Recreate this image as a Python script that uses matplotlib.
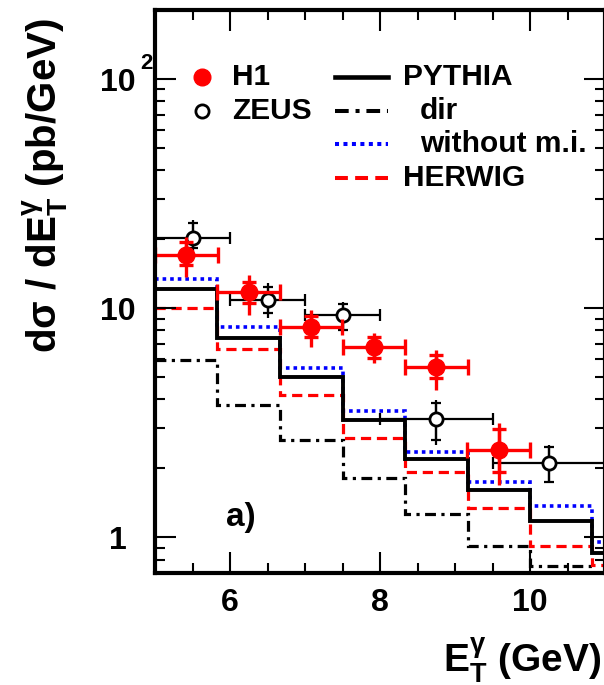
import matplotlib
matplotlib.use('Agg')
import matplotlib.pyplot as plt
from matplotlib.ticker import FixedLocator, FixedFormatter, LogLocator, NullFormatter, MultipleLocator

plt.rcParams['font.family'] = ['Liberation Sans', 'DejaVu Sans']
plt.rcParams['font.weight'] = 'bold'
plt.rcParams['mathtext.fontset'] = 'custom'
plt.rcParams['mathtext.rm'] = 'Liberation Sans:bold'
plt.rcParams['mathtext.it'] = 'Liberation Sans:bold'
plt.rcParams['mathtext.bf'] = 'Liberation Sans:bold'

# ---------------- data ----------------
mc_edges = [5.0, 5.833, 6.667, 7.5, 8.333, 9.167, 10.0, 10.833, 11.667]
pythia = [12.1, 7.39, 5.02, 3.27, 2.19, 1.61, 1.18, 0.86]
pythia_dir = [5.94, 3.78, 2.67, 1.81, 1.27, 0.916, 0.754, 0.6]
pythia_nomi = [13.4, 8.31, 5.47, 3.57, 2.35, 1.75, 1.375, 0.954]
herwig = [10.0, 6.64, 4.19, 2.72, 1.93, 1.35, 0.916, 0.76]

h1_x = [5.417, 6.25, 7.083, 7.917, 8.75, 9.583]
h1_xerr = [0.4167, 0.4167, 0.4167, 0.4167, 0.4167, 0.4167]
h1_y = [17.1, 11.8, 8.3, 6.75, 5.52, 2.42]
h1_stat_up = [2.4, 1.27, 0.95, 0.72, 0.73, 0.54]
h1_stat_dn = [1.6, 1.25, 0.79, 0.71, 0.58, 0.49]
h1_tot_up = [3.4, 2.18, 1.53, 1.03, 1.05, 0.74]
h1_tot_dn = [3.4, 2.45, 1.51, 1.0, 1.13, 0.73]

zeus_x = [5.5, 6.5, 7.5, 8.75, 10.25]
zeus_xerr = [0.5, 0.5, 0.5, 0.75, 0.75]
zeus_y = [20.2, 10.87, 9.35, 3.30, 2.11]
zeus_stat_up = [3.3, 1.56, 1.09, 0.57, 0.37]
zeus_stat_dn = [1.9, 1.36, 1.31, 0.64, 0.36]
zeus_tot_up = [4.1, 1.99, 1.34, 0.67, 0.42]
zeus_tot_dn = [2.4, 1.83, 1.39, 0.77, 0.39]

ytick_vals = [1, 10, 100]
ytick_labels = ['1', '10', '10']
xtick_vals = [6, 8, 10]
xtick_labels = ['6', '8', '10']

# ---------------- figure ----------------
W, H = 604, 685
fig = plt.figure(figsize=(W / 100, H / 100), dpi=100)
ax = fig.add_axes([155 / W, (H - 573) / H, 450 / W, 563 / H])
ax.set_yscale('log')
ax.set_xlim(5, 11)
ax.set_ylim(0.7, 200)

lw = 2.3
dashdot = (0, (3.4, 1.7, 1, 1.7))
dashed = (0, (3.2, 1.8))
dotted = (0, (1.0, 1.1))
ax.stairs(pythia_dir, mc_edges, baseline=None, color='black', lw=lw, linestyle=dashdot)
ax.stairs(herwig, mc_edges, baseline=None, color='red', lw=lw, linestyle=dashed)
ax.stairs(pythia_nomi, mc_edges, baseline=None, color='blue', lw=lw + 0.3, linestyle=dotted)
ax.stairs(pythia, mc_edges, baseline=None, color='black', lw=lw + 0.5)

# ZEUS
zk = dict(fmt='none', ecolor='black', elinewidth=1.6, capthick=1.6)
ax.errorbar(zeus_x, zeus_y, xerr=zeus_xerr, capsize=4.5, **zk)
ax.errorbar(zeus_x, zeus_y, yerr=[zeus_tot_dn, zeus_tot_up], capsize=0, **zk)
ax.errorbar(zeus_x, zeus_y, yerr=[zeus_stat_dn, zeus_stat_up], capsize=3.5, **zk)
ax.plot(zeus_x, zeus_y, 'o', ms=9.5, mfc='white', mec='black', mew=2.0, ls='none')

# H1
hk = dict(fmt='none', ecolor='red', elinewidth=2.4, capthick=2.4)
ax.errorbar(h1_x, h1_y, xerr=h1_xerr, capsize=6, **hk)
ax.errorbar(h1_x, h1_y, yerr=[h1_tot_dn, h1_tot_up], capsize=0, **hk)
ax.errorbar(h1_x, h1_y, yerr=[h1_stat_dn, h1_stat_up], capsize=5, **hk)
ax.plot(h1_x, h1_y, 'o', ms=12, color='red', ls='none')

# ---------------- axes style ----------------
for s in ax.spines.values():
    s.set_linewidth(3)
ax.xaxis.set_major_locator(FixedLocator(xtick_vals))
ax.xaxis.set_major_formatter(FixedFormatter(xtick_labels))
ax.xaxis.set_minor_locator(MultipleLocator(0.5))
ax.yaxis.set_major_locator(FixedLocator(ytick_vals))
ax.yaxis.set_major_formatter(FixedFormatter(ytick_labels))
ax.yaxis.set_minor_locator(LogLocator(base=10, subs=range(2, 10)))
ax.yaxis.set_minor_formatter(NullFormatter())
ax.tick_params(which='both', direction='in', top=True, right=True, width=1.5)
ax.tick_params(which='major', length=15)
ax.tick_params(which='minor', length=7.5)
ax.tick_params(axis='x', which='major', labelsize=23, pad=11)
ax.tick_params(axis='y', which='major', labelsize=23, pad=27)
for t in ax.get_yticklabels():
    t.set_horizontalalignment('center')
ax.text(-0.02, 0.905, '2', transform=ax.transAxes, fontsize=16,
        fontweight='bold', ha='center', va='center')

# ---------------- legend (manual) ----------------
fs = 21.5
ax.plot([0.1044], [0.881], 'o', ms=12, color='red', transform=ax.transAxes)
ax.plot([0.1044], [0.8206], 'o', ms=9.5, mfc='white', mec='black', mew=2.0,
        transform=ax.transAxes)
ax.text(0.171, 0.881, 'H1', transform=ax.transAxes, fontsize=fs, va='center')
ax.text(0.171, 0.8206, 'ZEUS', transform=ax.transAxes, fontsize=fs, va='center')

rows = [0.881, 0.8206, 0.762, 0.7016]
ax.plot([0.4, 0.518], [rows[0]] * 2, color='black', lw=lw + 1.0, transform=ax.transAxes)
ax.plot([0.4, 0.518], [rows[1]] * 2, color='black', lw=lw + 0.6,
        linestyle=dashdot, transform=ax.transAxes)
ax.plot([0.4, 0.518], [rows[2]] * 2, color='blue', lw=lw + 0.6,
        linestyle=dotted, transform=ax.transAxes)
ax.plot([0.4, 0.518], [rows[3]] * 2, color='red', lw=lw + 0.6,
        linestyle=dashed, transform=ax.transAxes)
ax.text(0.551, rows[0], 'PYTHIA', transform=ax.transAxes, fontsize=fs, va='center')
ax.text(0.589, rows[1], 'dir', transform=ax.transAxes, fontsize=fs, va='center')
ax.text(0.589, rows[2], 'without m.i.', transform=ax.transAxes, fontsize=fs, va='center')
ax.text(0.551, rows[3], 'HERWIG', transform=ax.transAxes, fontsize=fs, va='center')

ax.text(0.158, 0.0977, 'a)', transform=ax.transAxes, fontsize=24, va='center')

# ---------------- axis titles ----------------
fig.text(45 / W, 1 - 18 / H, r'd$\sigma$ / dE$_{T}^{\gamma}$ (pb/GeV)', rotation=90,
         ha='center', va='top', fontsize=29)
fig.text(602 / W, 24 / H, r'E$_{T}^{\gamma}$ (GeV)', ha='right', va='center',
         fontsize=28)

fig.savefig('out.png', dpi=100)
